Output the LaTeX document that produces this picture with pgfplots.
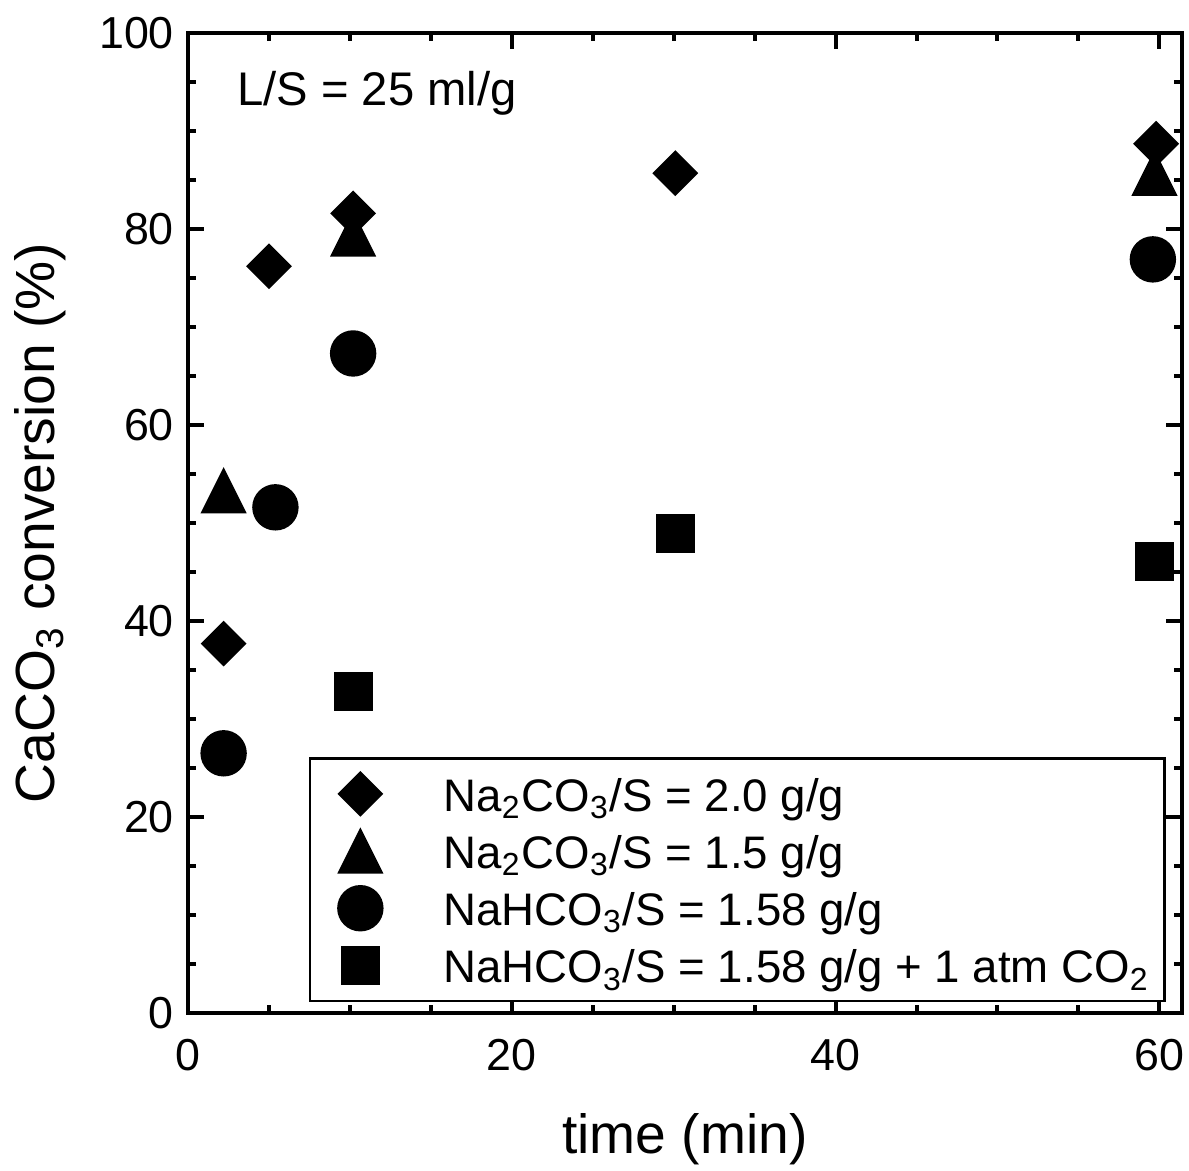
\documentclass[border=0pt]{standalone}
\usepackage{fontspec}
\setmainfont{Liberation Sans}
\usepackage{pgfplots}
\pgfplotsset{compat=1.18}
\begin{document}
\begin{tikzpicture}
\begin{axis}[
  scale only axis, width=248.5pt, height=245pt,
  xmin=0, xmax=61.4, ymin=0, ymax=100,
  xtick={0,20,40,60}, ytick={0,20,40,60,80,100},
  minor x tick num=3, minor y tick num=3,
  tick align=inside, tick pos=both,
  major tick length=4pt, minor tick length=2pt,
  every tick/.style={black, line width=1pt},
  axis line style={line width=1.2pt},
  /pgf/number format/assume math mode=true,
  ticklabel style={font=\fontsize{11.2}{13}\selectfont},
  xticklabel style={yshift=-3pt},
  xlabel={time (min)},
  ylabel={CaCO\textsubscript{3} conversion (\%)},
  label style={font=\fontsize{13.8}{16}\selectfont},
  xlabel style={at={(axis description cs:0.5,-0.143)}, anchor=base},
  ylabel style={at={(axis description cs:-0.134,0.5)}, anchor=base},
  legend style={at={(rel axis cs:0.1217,0.0112)}, anchor=south west,
    draw=black, line width=0.6pt, inner xsep=1.75pt, inner ysep=1pt,
    font=\fontsize{11.4}{13}\selectfont,
    cells={anchor=west, inner sep=0pt, text height=10.2pt, text depth=2.05pt},
    /tikz/every odd column/.append style={column sep=9pt},
    row sep=-1.4pt},
  legend image code/.code={\path (0pt,0pt) (20pt,0pt); \draw[#1] plot coordinates {(10.5pt,0pt)};},
]
\addplot[black, only marks, mark=square*, mark size=3.85pt,
  mark options={rotate=45, fill=black, draw=black, line width=0.4pt}]
  coordinates {(2.2,37.7) (5.0,76.2) (10.2,81.6) (30.1,85.7) (59.8,88.7)};
\addlegendentry{Na\textsubscript{2}CO\textsubscript{3}/S = 2.0 g/g}
\addplot[black, only marks, mark=triangle*, mark size=6.3pt,
  mark options={yshift=-1.82pt, yscale=1.155, fill=black, draw=black, line width=0.4pt}]
  coordinates {(2.2,53.3) (10.2,79.5) (59.7,85.7)};
\addlegendentry{Na\textsubscript{2}CO\textsubscript{3}/S = 1.5 g/g}
\addplot[black, only marks, mark=*, mark size=5.6pt,
  mark options={fill=black, draw=black, line width=0.4pt}]
  coordinates {(2.2,26.5) (5.4,51.6) (10.2,67.3) (59.6,76.9)};
\addlegendentry{NaHCO\textsubscript{3}/S = 1.58 g/g}
\addplot[black, only marks, mark=square*, mark size=4.65pt,
  mark options={fill=black, draw=black, line width=0.4pt}]
  coordinates {(10.2,32.8) (30.1,48.9) (59.7,46.1)};
\addlegendentry{NaHCO\textsubscript{3}/S = 1.58 g/g + 1 atm CO\textsubscript{2}}
\node[anchor=base west, inner sep=0pt, font=\fontsize{11.8}{14}\selectfont] at (axis cs:3.0,92.65) {L/S = 25 ml/g};
\coordinate (SW) at (rel axis cs:0,0);
\coordinate (NE) at (rel axis cs:1,1);
\end{axis}
\pgfresetboundingbox
\path ([shift={(-47pt,-39.25pt)}]SW) rectangle ([shift={(1.75pt,8.25pt)}]NE);
\end{tikzpicture}
\end{document}
